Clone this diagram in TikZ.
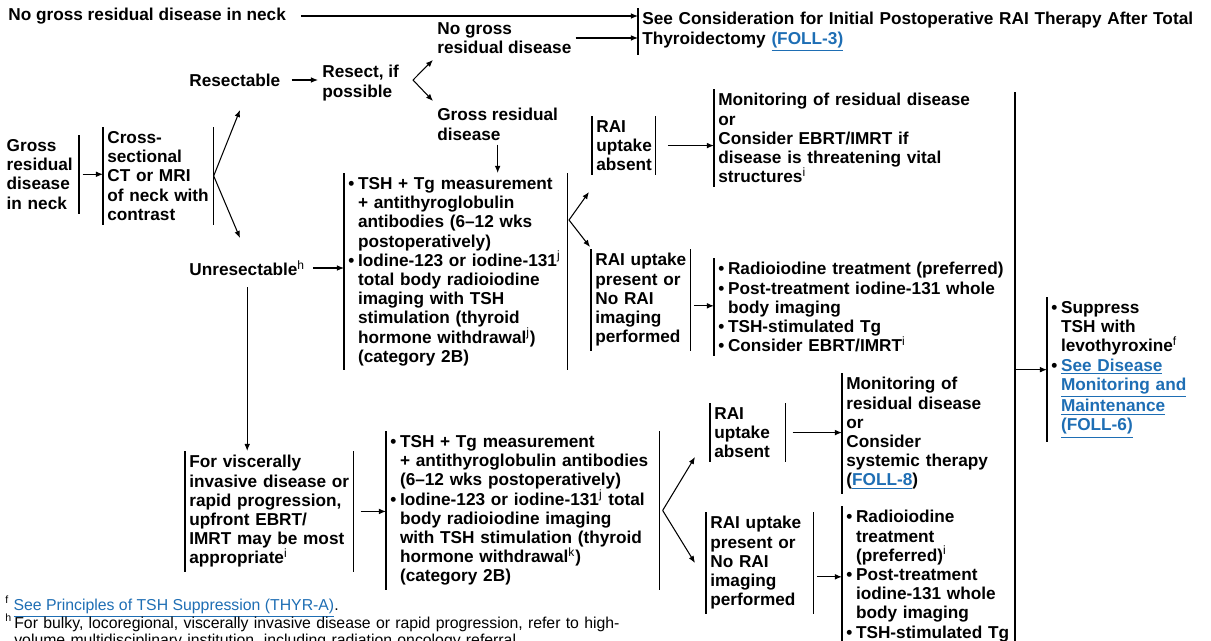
\documentclass[tikz,border=0pt]{standalone}
\usepackage{fontspec}
\setmainfont{Liberation Sans}
\usetikzlibrary{arrows.meta}
\definecolor{linkblue}{RGB}{30,110,180}
\newcommand{\bulf}{\hangindent=5.5pt\hangafter=1\noindent\makebox[5.5pt][l]{\textbullet}}
\newcommand{\bul}{\par\bulf}
\newcommand{\lnk}[1]{\textcolor{linkblue}{\underline{#1}}}
\newcommand{\sups}[1]{\textsuperscript{\mdseries #1}}
\tikzset{
    txt/.style={font=\fontsize{9.8}{10.94}\selectfont\bfseries, inner xsep=0.08cm, inner ysep=0.08cm, anchor=north west, align=left},
    blk/.style={txt, text width=#1},
    fn/.style={font=\fontsize{9}{9.6}\selectfont, inner xsep=0.08cm, inner ysep=0.06cm, anchor=north west, align=left},
    arr/.style={-{Latex[length=4pt,width=3.2pt]}, line width=0.6pt},
    bar/.style={line width=0.6pt}
}
\begin{document}
\begin{tikzpicture}[x=0.02cm, y=-0.02cm]
    \useasboundingbox (0,0) rectangle (1211,640);
    \clip (0,0) rectangle (1211,640);
    % top row
    \node[txt, anchor=west] (nogrossneck) at (4,16) {No gross residual disease in neck};
    \node[blk=11.3cm] (foll3) at (638,8) {See Consideration for Initial Postoperative RAI Therapy After Total\\Thyroidectomy \lnk{(FOLL-3)}};
    \node[txt] (nogross) at (433,18) {No gross\\residual disease};
    \node[txt, anchor=west] (resectable) at (185,80) {Resectable};
    \node[txt] (resect) at (318,61) {Resect, if\\possible};
    \node[txt] (grossres) at (433,104) {Gross residual\\disease};
    % left column
    \node[blk=1.36cm, anchor=north east] (grossneck) at (79,135) {Gross\\residual\\disease\\in neck};
    \node[blk=2.04cm] (cross) at (103,127) {Cross-\\sectional\\CT or MRI\\of neck with\\contrast};
    \node[txt, anchor=west] (unres) at (185,268) {Unresectable\sups{h}};
    % upper branch
    \node[blk=4.30cm] (box1) at (344,173) {\bulf TSH + Tg measurement\newline + antithyroglobulin\newline antibodies (6–12 wks\newline postoperatively)\bul Iodine-123 or iodine-131\sups{j}\newline total body radioiodine\newline imaging with TSH\newline stimulation (thyroid\newline hormone withdrawal\sups{j})\newline (category 2B)\par};
    \node[blk=1.10cm] (absent1) at (592,116) {RAI\\uptake\\absent};
    \node[blk=6cm] (monit1) at (714,89) {Monitoring of residual disease\\or\\Consider EBRT/IMRT if\\disease is threatening vital\\structures\sups{i}};
    \node[blk=1.82cm] (present1) at (591,249) {RAI uptake\\present or\\No RAI\\imaging\\performed};
    \node[blk=6cm] (treat1) at (714,258) {\bulf Radioiodine treatment (preferred)\bul Post-treatment iodine-131 whole\newline body imaging\bul TSH-stimulated Tg\bul Consider EBRT/IMRT\sups{i}\par};
    % right column
    \node[blk=3cm] (suppress) at (1047,297) {\bulf Suppress\newline TSH with\newline levothyroxine\sups{f}\bul \lnk{See Disease}\newline \lnk{Monitoring and}\newline \lnk{Maintenance}\newline \lnk{(FOLL-6)}\par};
    % lower branch
    \node[blk=3.20cm] (visc) at (185,451) {For viscerally\\invasive disease or\\rapid progression,\\upfront EBRT/\\IMRT may be most\\appropriate\sups{i}};
    \node[blk=5.30cm] (box2) at (386,431) {\bulf TSH + Tg measurement\newline + antithyroglobulin antibodies\newline (6–12 wks postoperatively)\bul Iodine-123 or iodine-131\sups{j} total\newline body radioiodine imaging\newline with TSH stimulation (thyroid\newline hormone withdrawal\sups{k})\newline (category 2B)\par};
    \node[blk=1.34cm] (absent2) at (710,403) {RAI\\uptake\\absent};
    \node[blk=3.4cm] (monit2) at (842,373) {Monitoring of\\residual disease\\or\\Consider\\systemic therapy\\(\lnk{FOLL-8})};
    \node[blk=1.98cm] (present2) at (706,512) {RAI uptake\\present or\\No RAI\\imaging\\performed};
    \node[blk=3.4cm] (treat2) at (842,506) {\bulf Radioiodine\newline treatment\newline (preferred)\sups{i}\bul Post-treatment\newline iodine-131 whole\newline body imaging\bul TSH-stimulated Tg\par};
    % footnotes
    \node[fn] (fnf) at (1,593) {\sups{f} \lnk{See Principles of TSH Suppression (THYR-A)}.};
    \node[fn, text width=13.5cm] (fnh) at (1,611) {\hangindent=5.1pt\hangafter=1\noindent\makebox[5.1pt][l]{\textsuperscript{h}}For bulky, locoregional, viscerally invasive disease or rapid progression, refer to high-\newline volume multidisciplinary institution, including radiation oncology referral.\par};
    % bars
    \foreach \n in {foll3,cross,box1,absent1,monit1,present1,treat1,suppress,visc,box2,absent2,monit2,present2,treat2}
    {
        \draw[bar] (\n.north west) -- (\n.south west);
    }
    \foreach \n in {grossneck,cross,box1,absent1,present1,visc,box2,absent2,present2}
    {
        \draw[bar] (\n.north east) -- (\n.south east);
    }
    \coordinate (bigtop) at (1015,92);
    \coordinate (bigbot) at (1015,645);
    \draw[bar] (bigtop) -- (bigbot);
    % branch points
    \coordinate (resv) at (413,80);
    \coordinate (crossup) at (240,110);
    \coordinate (crossdn) at (240,238);
    \coordinate (box1v) at (569,220);
    \coordinate (box1up) at (589,192);
    \coordinate (box1dn) at (590,247);
    \coordinate (box2up) at (695,457);
    \coordinate (box2dn) at (695,563);
    % connectors
    \draw[arr, shorten <=6pt] (nogrossneck.east) -- (nogrossneck.east -| foll3.west);
    \draw[arr] (nogross.east) -- (nogross.east -| foll3.west);
    \draw[arr, shorten <=4pt] (resectable.east) -- (resectable.east -| resect.west);
    \draw[arr] (resv) -- ([yshift=-0.04cm]nogross.south west);
    \draw[arr] (resv) -- ([yshift=0.06cm]grossres.north west);
    \draw[arr] (grossres.south) -- (grossres.south |- box1.north);
    \draw[arr, shorten <=2pt] (grossneck.east) -- (grossneck.east -| cross.west);
    \draw[arr] (cross.east) -- (crossup);
    \draw[arr] (cross.east) -- (crossdn);
    \draw[arr, shorten <=2pt] (unres.east) -- (unres.east -| box1.west);
    \draw[arr, shorten <=4pt] (unres.south) -- (unres.south |- visc.north);
    \draw[arr] (box1v) -- (box1up);
    \draw[arr] (box1v) -- (box1dn);
    \draw[arr, shorten <=7pt] (absent1.east) -- (absent1.east -| monit1.west);
    \draw[arr, shorten <=2pt] ([yshift=-0.12cm]present1.east) -- ([yshift=-0.12cm]present1.east -| treat1.west);
    \draw[arr] (suppress.west -| bigtop) -- (suppress.west);
    \draw[arr, shorten <=4pt] (visc.east) -- (visc.east -| box2.west);
    \draw[arr] ([xshift=0.06cm]box2.east) -- (box2up);
    \draw[arr] ([xshift=0.06cm]box2.east) -- (box2dn);
    \draw[arr, shorten <=4pt] (absent2.east) -- (absent2.east -| monit2.west);
    \draw[arr, shorten <=2pt] ([yshift=-0.28cm]present2.east) -- ([yshift=-0.28cm]present2.east -| treat2.west);
\end{tikzpicture}
\end{document}
